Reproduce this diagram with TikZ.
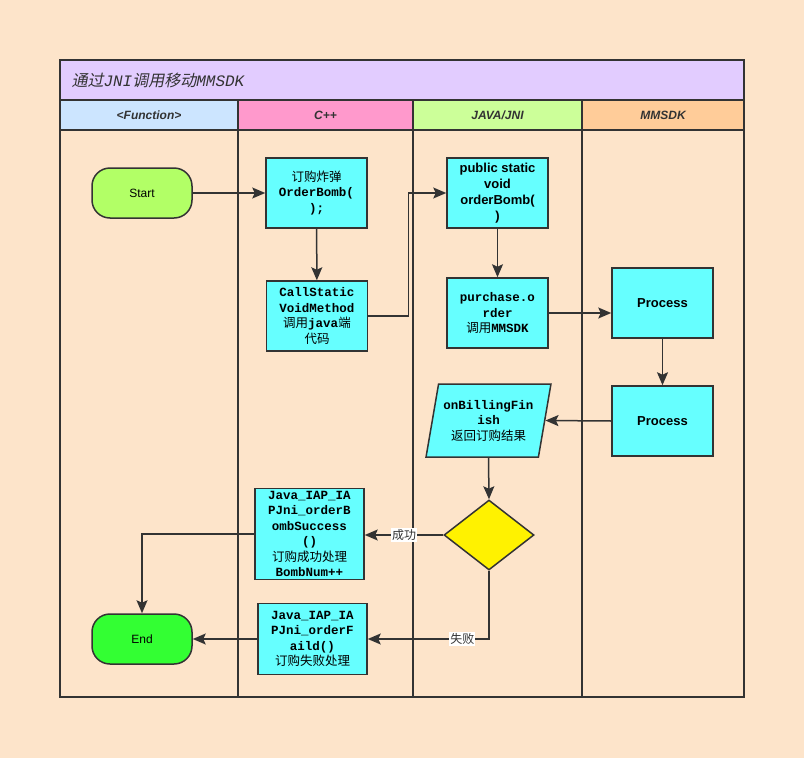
\documentclass[tikz,border=0pt]{standalone}
\usepackage{fontspec}
\setmainfont{Liberation Sans}
\setmonofont{Liberation Mono}
\newfontfamily\cjk{Noto Sans CJK SC}
\newfontfamily\cjkslant[FakeSlant=0.2]{Noto Sans CJK SC}
\usetikzlibrary{arrows.meta,shapes.geometric}
\definecolor{bgpeach}{HTML}{FDE4CA}
\definecolor{titlebg}{HTML}{E2CCFF}
\definecolor{hfun}{HTML}{CCE5FF}
\definecolor{hcpp}{HTML}{FF99CC}
\definecolor{hjava}{HTML}{CCFF99}
\definecolor{hsdk}{HTML}{FFCC99}
\definecolor{boxcyan}{HTML}{66FFFF}
\definecolor{startgreen}{HTML}{B2FF66}
\definecolor{endgreen}{HTML}{33FF33}
\definecolor{lanec}{HTML}{333333}
\newcommand{\zh}[1]{{\cjk\mdseries #1}}

\begin{document}
\begin{tikzpicture}[x=1pt, y=-1pt,
   lane/.style={draw=lanec, line width=1.5pt},
   head/.style={draw=lanec, line width=1.5pt, minimum height=30pt,
                text=lanec, font=\bfseries\itshape\fontsize{12}{14}\selectfont},
   task/.style={draw=lanec, fill=boxcyan, line width=1.5pt, align=center,
                minimum width=101pt, minimum height=70pt, inner sep=1pt,
                text=black, font=\ttfamily\bfseries\fontsize{12.5}{15.5}\selectfont},
   term/.style={draw=lanec, line width=1.5pt, rounded corners=18pt,
                minimum width=100pt, minimum height=50pt,
                font=\fontsize{12}{14}\selectfont},
   flow/.style={draw=lanec, line width=1.5pt,
                -{Stealth[length=13pt, width=11pt, inset=2.5pt]}},
   tag/.style={fill=white, inner sep=1pt, text=lanec,
               font=\cjk\fontsize{12}{14}\selectfont}]
% page and swimlane frame
\useasboundingbox (0,0) rectangle (804,758);
\fill[bgpeach] (0,0) rectangle (804,758);
\fill[titlebg] (60,60) rectangle (744,100);
\node[anchor=west, text=lanec, font=\fontsize{16}{18}\selectfont] (title) at (68,80)
  {\cjkslant 通过{\ttfamily\itshape JNI}调用移动{\ttfamily\itshape MMSDK}};
\node[head, fill=hfun, minimum width=178pt] (hfunc) at (149,115) {<Function>};
\node[head, fill=hcpp, minimum width=175pt] (hcpp) at (325.5,115) {C++};
\node[head, fill=hjava, minimum width=169pt] (hjava) at (497.5,115) {JAVA/JNI};
\node[head, fill=hsdk, minimum width=162pt] (hsdk) at (663,115) {MMSDK};
\draw[lane] (60,60) rectangle (744,697);
\draw[lane] (60,100) -- (744,100);
\foreach \x in {238,413,582}
  \draw[lane] (\x,100) -- (\x,697);

% function lane
\node[term, fill=startgreen] (start) at (142,193) {Start};
\node[term, fill=endgreen] (endn) at (142,639) {End};

% C++ lane
\node[task] (c1) at (316.5,193) {\zh{订购炸弹}\\OrderBomb(\\);};
\node[task] (c2) at (317,316) {CallStatic\\VoidMethod\\\zh{调用}java\zh{端}\\\zh{代码}};
\node[task, minimum width=109pt, minimum height=91pt] (c3) at (309.5,534)
  {Java\_IAP\_IA\\PJni\_orderB\\ombSuccess\\()\\\zh{订购成功处理}\\BombNum++};
\node[task, minimum width=109pt, minimum height=71pt] (c4) at (312.5,639)
  {Java\_IAP\_IA\\PJni\_orderF\\aild()\\\zh{订购失败处理}};

% JAVA/JNI lane
\node[task, font=\bfseries\fontsize{13}{16}\selectfont] (j1) at (497.5,193)
  {public static\\void\\orderBomb(\\)};
\node[task] (j2) at (497.5,313) {purchase.o\\rder\\\zh{调用}MMSDK};
\node[task, trapezium, trapezium left angle=75, trapezium right angle=105,
      trapezium stretches=true, minimum width=125pt, minimum height=73pt] (bill)
  at (488.5,420.5) {onBillingFin\\ish\\\zh{返回订购结果}};
\node[draw=lanec, fill=yellow, line width=1.5pt, diamond, inner sep=0pt,
      minimum width=90pt, minimum height=70pt] (dec) at (489,535) {};

% MMSDK lane
\node[task, font=\bfseries\fontsize{13}{16}\selectfont] (m1) at (662.5,303) {Process};
\node[task, font=\bfseries\fontsize{13}{16}\selectfont] (m2) at (662.5,421) {Process};

% connectors
\draw[flow] (start) -- (c1);
\draw[flow] (c1) -- (c2);
\draw[flow] (c2.east) -- ++(40,0) |- (j1.west);
\draw[flow] (j1) -- (j2);
\draw[flow] (j2.east) -- (j2.east -| m1.west);
\draw[flow] (m1) -- (m2);
\draw[flow] (m2.west) -- (bill.east);
\draw[flow] (bill.south) -- (dec.north);
\draw[flow] (dec.west) -- (dec.west -| c3.east) node[tag, midway] {成功};
\draw[flow] (dec.south) |- (c4.east) node[tag, pos=0.61] {失败};
\draw[flow] (c3.west) -| (endn.north);
\draw[flow] (c4.west) -- (endn.east);
\end{tikzpicture}
\end{document}
